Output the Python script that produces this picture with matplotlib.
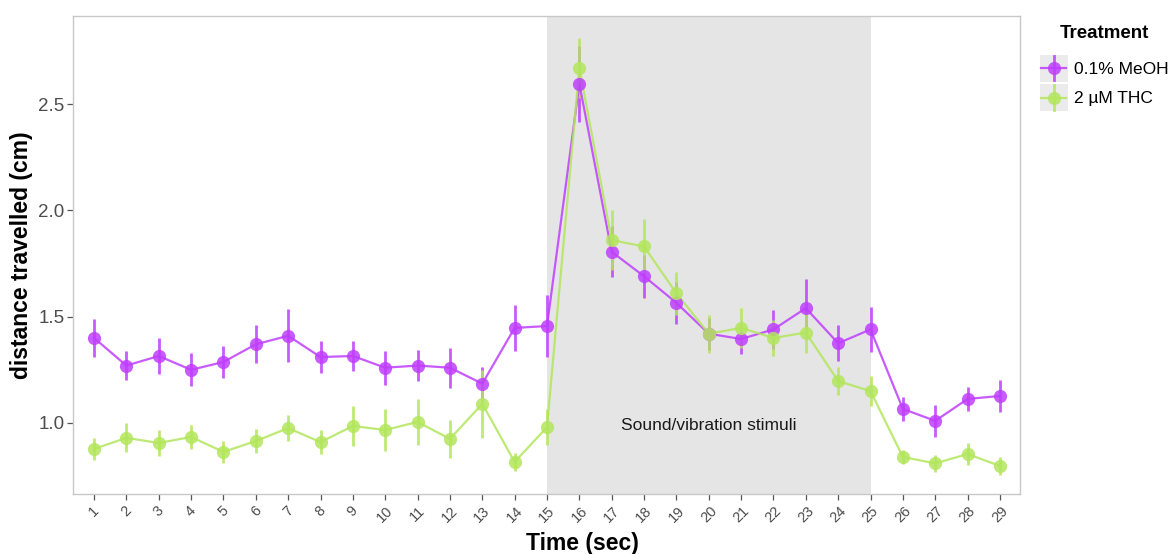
import matplotlib
matplotlib.use("Agg")
import matplotlib.pyplot as plt
from matplotlib.legend_handler import HandlerBase
from matplotlib.patches import Rectangle
from matplotlib.lines import Line2D

plt.rcParams['font.family'] = ['Liberation Sans', 'DejaVu Sans']

time_sec = list(range(1, 30))
meoh_mean = [1.40, 1.27, 1.315, 1.25, 1.287, 1.37, 1.41, 1.31, 1.315, 1.26,
             1.27, 1.26, 1.185, 1.447, 1.456, 2.595, 1.805, 1.69, 1.565, 1.42,
             1.395, 1.44, 1.54, 1.375, 1.44, 1.066, 1.01, 1.113, 1.127]
meoh_err = [0.088, 0.068, 0.084, 0.078, 0.076, 0.089, 0.125, 0.074, 0.069, 0.08,
            0.074, 0.094, 0.08, 0.11, 0.145, 0.18, 0.12, 0.10, 0.10, 0.075,
            0.07, 0.09, 0.135, 0.084, 0.104, 0.055, 0.074, 0.057, 0.074]
thc_mean = [0.878, 0.93, 0.906, 0.934, 0.864, 0.915, 0.976, 0.91, 0.986, 0.967,
            1.005, 0.925, 1.09, 0.817, 0.98, 2.67, 1.86, 1.83, 1.61, 1.42,
            1.447, 1.40, 1.425, 1.197, 1.15, 0.84, 0.81, 0.854, 0.798]
thc_err = [0.053, 0.068, 0.06, 0.057, 0.053, 0.056, 0.063, 0.056, 0.092, 0.10,
           0.11, 0.09, 0.16, 0.041, 0.085, 0.14, 0.14, 0.127, 0.10, 0.09,
           0.094, 0.086, 0.098, 0.065, 0.069, 0.033, 0.04, 0.05, 0.042]
series_labels = ['0.1% MeOH', '2 µM THC']
stim_start, stim_end = 15, 25
stim_label = 'Sound/vibration stimuli'

purple = '#BF3EFF'
green = '#B3E65C'

fig = plt.figure(figsize=(11.72, 5.54), dpi=100)
ax = fig.add_axes([73/1172, 60/554, 947/1172, 478/554])

ax.axvspan(stim_start, stim_end, color='#E5E5E5', lw=0, zorder=0)
ax.text((stim_start + stim_end) / 2, 0.99, stim_label, ha='center', va='center',
        fontsize=12.5, color='#1a1a1a')

handles = []
for mean, err, col, lab in [(meoh_mean, meoh_err, purple, series_labels[0]),
                            (thc_mean, thc_err, green, series_labels[1])]:
    ax.errorbar(time_sec, mean, yerr=err, fmt='none', ecolor=col, elinewidth=2,
                alpha=0.85, capsize=0, zorder=2)
    ax.plot(time_sec, mean, color=col, lw=1.6, alpha=0.85, zorder=3)
    ax.plot(time_sec, mean, 'o', color=col, ms=9.5, mec='none', alpha=0.85, zorder=4)
    handles.append(Line2D([], [], color=col, label=lab))

ax.set_xlim(0.35, 29.62)
ax.set_ylim(0.666, 2.914)
ax.set_xticks(time_sec)
ax.set_xticklabels([str(t) for t in time_sec], rotation=45, ha='center', va='top',
                   fontsize=10.5, color='#4D4D4D')
ax.set_yticks([1.0, 1.5, 2.0, 2.5])
ax.set_yticklabels(['1.0', '1.5', '2.0', '2.5'], fontsize=13.5, color='#4D4D4D')
ax.tick_params(axis='both', length=4, width=0.9, color='#555555')
ax.tick_params(axis='x', pad=3)
ax.tick_params(axis='y', pad=2)
for s in ax.spines.values():
    s.set_color('#C8C8C8')
    s.set_linewidth(1.0)
ax.set_xlabel('Time (sec)', fontsize=16.5, fontweight='bold')
ax.xaxis.set_label_coords(0.5375, -0.079)
ax.set_ylabel('distance travelled (cm)', fontsize=16.5, fontweight='bold')
ax.yaxis.set_label_coords(-0.042, 0.5)


class KeyHandler(HandlerBase):
    def create_artists(self, legend, orig_handle, xdescent, ydescent, width, height,
                       fontsize, trans):
        col = orig_handle.get_color()
        x0, y0 = -xdescent, -ydescent
        cx, cy = x0 + width / 2, y0 + height / 2
        rect = Rectangle((x0, y0), width, height, facecolor='#EBEBEB', edgecolor='none',
                         transform=trans)
        hl = Line2D([x0 + 1, x0 + width - 1], [cy, cy], color=col, lw=1.6, alpha=0.85,
                    transform=trans)
        vl = Line2D([cx, cx], [y0 + 1, y0 + height - 1], color=col, lw=2, alpha=0.85,
                    transform=trans)
        mk = Line2D([cx], [cy], marker='o', ms=9.5, color=col, mec='none', alpha=0.85,
                    transform=trans)
        return [rect, hl, vl, mk]


leg = fig.legend(handles=handles, handler_map={Line2D: KeyHandler()},
                 loc='upper left', bbox_to_anchor=(1040/1172, 1 - 25/554),
                 frameon=False, fontsize=12.5, title='Treatment',
                 title_fontproperties={'weight': 'bold', 'size': 13.5},
                 handlelength=1.6, handleheight=2.05, labelspacing=0.12,
                 handletextpad=0.35, borderaxespad=0, borderpad=0)
leg._legend_box.align = 'center'
leg._legend_box.sep = 9

fig.savefig('out.png', dpi=100)
